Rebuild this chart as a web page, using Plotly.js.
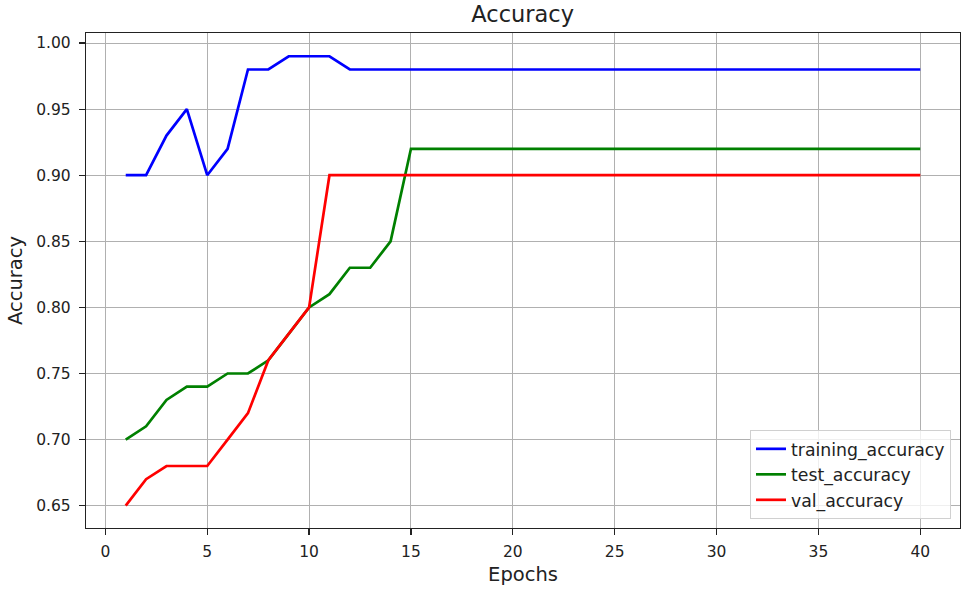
<!DOCTYPE html>
<html>
<head>
<meta charset="utf-8">
<script src="https://cdn.plot.ly/plotly-3.0.1.min.js"></script>
<style>html,body{margin:0;padding:0;background:#fff;}#chart{width:967px;height:592px;}</style>
</head>
<body>
<div id="chart"></div>
<script>
const epochs = Array.from({length: 40}, (_, i) => i + 1);
const training_accuracy = [0.90,0.90,0.93,0.95,0.90,0.92,0.98,0.98,0.99,0.99,0.99,0.98,0.98,0.98,0.98,0.98,0.98,0.98,0.98,0.98,0.98,0.98,0.98,0.98,0.98,0.98,0.98,0.98,0.98,0.98,0.98,0.98,0.98,0.98,0.98,0.98,0.98,0.98,0.98,0.98];
const test_accuracy = [0.70,0.71,0.73,0.74,0.74,0.75,0.75,0.76,0.78,0.80,0.81,0.83,0.83,0.85,0.92,0.92,0.92,0.92,0.92,0.92,0.92,0.92,0.92,0.92,0.92,0.92,0.92,0.92,0.92,0.92,0.92,0.92,0.92,0.92,0.92,0.92,0.92,0.92,0.92,0.92];
const val_accuracy = [0.65,0.67,0.68,0.68,0.68,0.70,0.72,0.76,0.78,0.80,0.90,0.90,0.90,0.90,0.90,0.90,0.90,0.90,0.90,0.90,0.90,0.90,0.90,0.90,0.90,0.90,0.90,0.90,0.90,0.90,0.90,0.90,0.90,0.90,0.90,0.90,0.90,0.90,0.90,0.90];
const xTicks = [0,5,10,15,20,25,30,35,40];
const yTicks = [0.65,0.70,0.75,0.80,0.85,0.90,0.95,1.00];

const font = 'DejaVu Sans, sans-serif';
const traces = [
  {x: epochs, y: training_accuracy, name: 'training_accuracy', mode: 'lines', line: {color: '#0000ff', width: 2.7}},
  {x: epochs, y: test_accuracy, name: 'test_accuracy', mode: 'lines', line: {color: '#008000', width: 2.7}},
  {x: epochs, y: val_accuracy, name: 'val_accuracy', mode: 'lines', line: {color: '#ff0000', width: 2.7}}
];
const axisCommon = {
  showgrid: true, gridcolor: '#b0b0b0', gridwidth: 1,
  showline: true, linecolor: '#222', linewidth: 1.2, mirror: true,
  ticks: 'outside', ticklen: 6, tickwidth: 1.2, tickcolor: '#222',
  zeroline: false, tickfont: {family: font, size: 15.5, color: '#222'},
  automargin: false
};
const layout = {
  width: 967, height: 592,
  margin: {l: 86, r: 7, t: 33, b: 64},
  paper_bgcolor: '#fff', plot_bgcolor: '#fff',
  font: {family: font, color: '#222'},
  title: {text: 'Accuracy', font: {family: font, size: 22.5, color: '#222'}, x: 0.5405, xanchor: 'center', y: 0.989, yanchor: 'top'},
  xaxis: Object.assign({}, axisCommon, {
    range: [-0.95, 41.95], tickvals: xTicks, ticktext: xTicks.map(String),
    ticklabelstandoff: 3,
    title: {text: 'Epochs', font: {family: font, size: 19.5, color: '#222'}, standoff: 7}
  }),
  yaxis: Object.assign({}, axisCommon, {
    range: [0.6331, 1.0076], tickvals: yTicks, ticktext: yTicks.map(v => v.toFixed(2)),
    ticklabelstandoff: 5,
    title: {text: 'Accuracy', font: {family: font, size: 19.5, color: '#222'}, standoff: 8}
  }),
  legend: {
    x: 0.9897, xanchor: 'right', y: 0.018, yanchor: 'bottom',
    bgcolor: 'rgba(255,255,255,0.8)', bordercolor: '#d0d0d0', borderwidth: 1,
    font: {family: font, size: 17.3, color: '#222'}
  },
  showlegend: true
};
Plotly.newPlot('chart', traces, layout, {displayModeBar: false, staticPlot: true});
</script>
</body>
</html>
